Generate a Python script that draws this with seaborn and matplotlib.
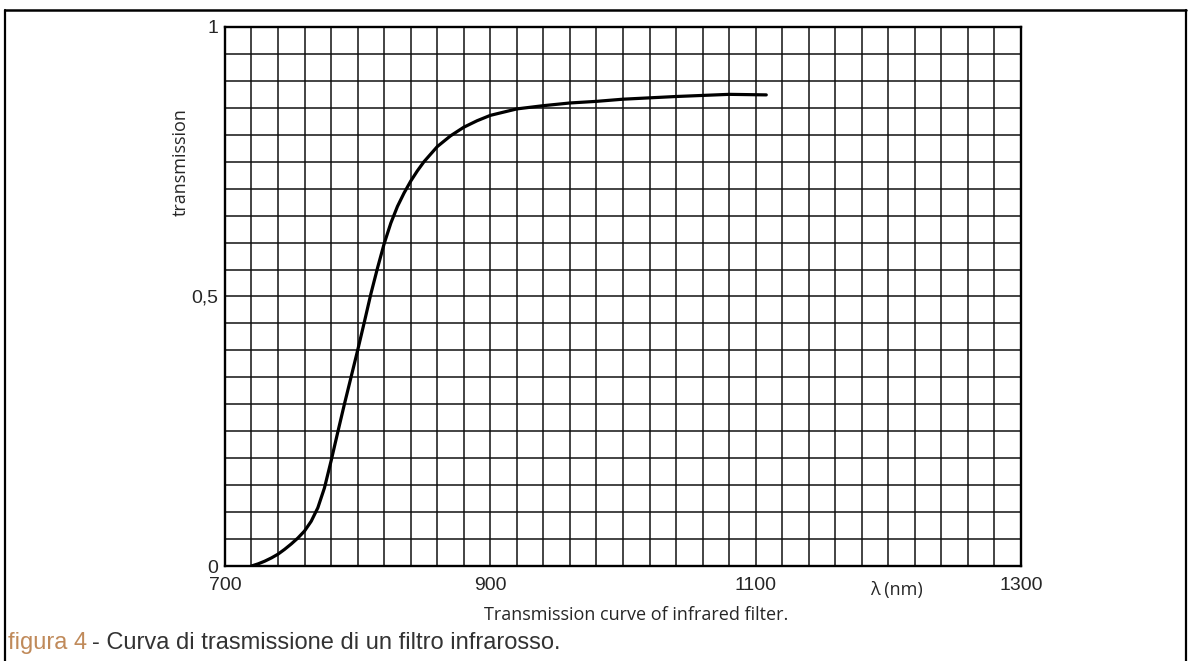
import numpy as np
import pandas as pd
import seaborn as sns
import matplotlib.pyplot as plt
from matplotlib.lines import Line2D

# curva di trasmissione (lunghezza d'onda in nm)
lunghezza_onda = [720, 725, 730, 735, 740, 745, 750, 755, 760, 765, 770, 775, 780,
                  785, 790, 795, 800, 805, 810, 815, 820, 825, 830, 835, 840, 845,
                  850, 860, 870, 880, 890, 900, 920, 940, 960, 980, 1000, 1040,
                  1080, 1108]
trasmissione = [0.0, 0.004, 0.009, 0.015, 0.022, 0.031, 0.041, 0.052, 0.065, 0.083,
                0.108, 0.145, 0.195, 0.248, 0.300, 0.350, 0.400, 0.452, 0.505, 0.553,
                0.598, 0.636, 0.667, 0.692, 0.714, 0.733, 0.750, 0.778, 0.798, 0.814,
                0.826, 0.836, 0.848, 0.854, 0.859, 0.862, 0.866, 0.871, 0.875, 0.874]

tick_x = [700, 900, 1100, 1300]
tick_x_labels = ["700", "900", "1100", "1300"]
tick_y = [0, 0.5, 1]
tick_y_labels = ["0", "0,5", "1"]

tabela = pd.DataFrame({"nm": lunghezza_onda, "T": trasmissione})

sns.set_style("white")
plt.rcParams['font.family'] = ['Liberation Sans', 'DejaVu Sans']

fig = plt.figure(figsize=(11.89, 6.61), dpi=100)
ax = fig.add_axes([0.1892, 0.1437, 0.6695, 0.8155])

sns.lineplot(data=tabela, x="nm", y="T", color="black", linewidth=2.3, ax=ax)

ax.set_xlim(700, 1300)
ax.set_ylim(0, 1)
ax.set_xticks(tick_x)
ax.set_xticklabels(tick_x_labels, fontsize=14)
ax.set_yticks(tick_y)
ax.set_yticklabels(tick_y_labels, fontsize=14)
ax.set_xticks(np.arange(700, 1301, 20), minor=True)
ax.set_yticks(np.arange(0, 1.001, 0.05), minor=True)
ax.grid(True, which="both", color="#111111", linewidth=1.1)
ax.tick_params(which="both", length=0)
ax.tick_params(axis="x", pad=8)
ax.tick_params(axis="y", pad=5)
for s in ax.spines.values():
    s.set_color("black")
    s.set_linewidth(1.7)
ax.set_xlabel("")
ax.set_ylabel("transmission", fontsize=13, family=["Open Sans", "DejaVu Sans"])
ax.yaxis.set_label_coords(-0.044, 0.75)

fig.text(0.754, 0.107, "λ (nm)", fontsize=13, ha="center", va="center",
         family=["Open Sans", "DejaVu Sans"])
fig.text(0.535, 0.0696, "Transmission curve of infrared filter.", fontsize=13,
         ha="center", va="center", family=["Open Sans", "DejaVu Sans"])
fig.text(0.007, 0.027, "figura 4", fontsize=17, ha="left", va="center", color="#c08a5a")
fig.text(0.0775, 0.027, "- Curva di trasmissione di un filtro infrarosso.", fontsize=17,
         ha="left", va="center", color="#333333")

# cornice attorno alla figura
fig.add_artist(Line2D([0.0042, 0.0042], [0, 0.985], color="black", lw=1.6))
fig.add_artist(Line2D([0.0042, 0.9975], [0.985, 0.985], color="black", lw=1.8))
fig.add_artist(Line2D([0.9975, 0.9975], [0, 0.985], color="black", lw=1.6))

fig.savefig("out.png", dpi=100)
